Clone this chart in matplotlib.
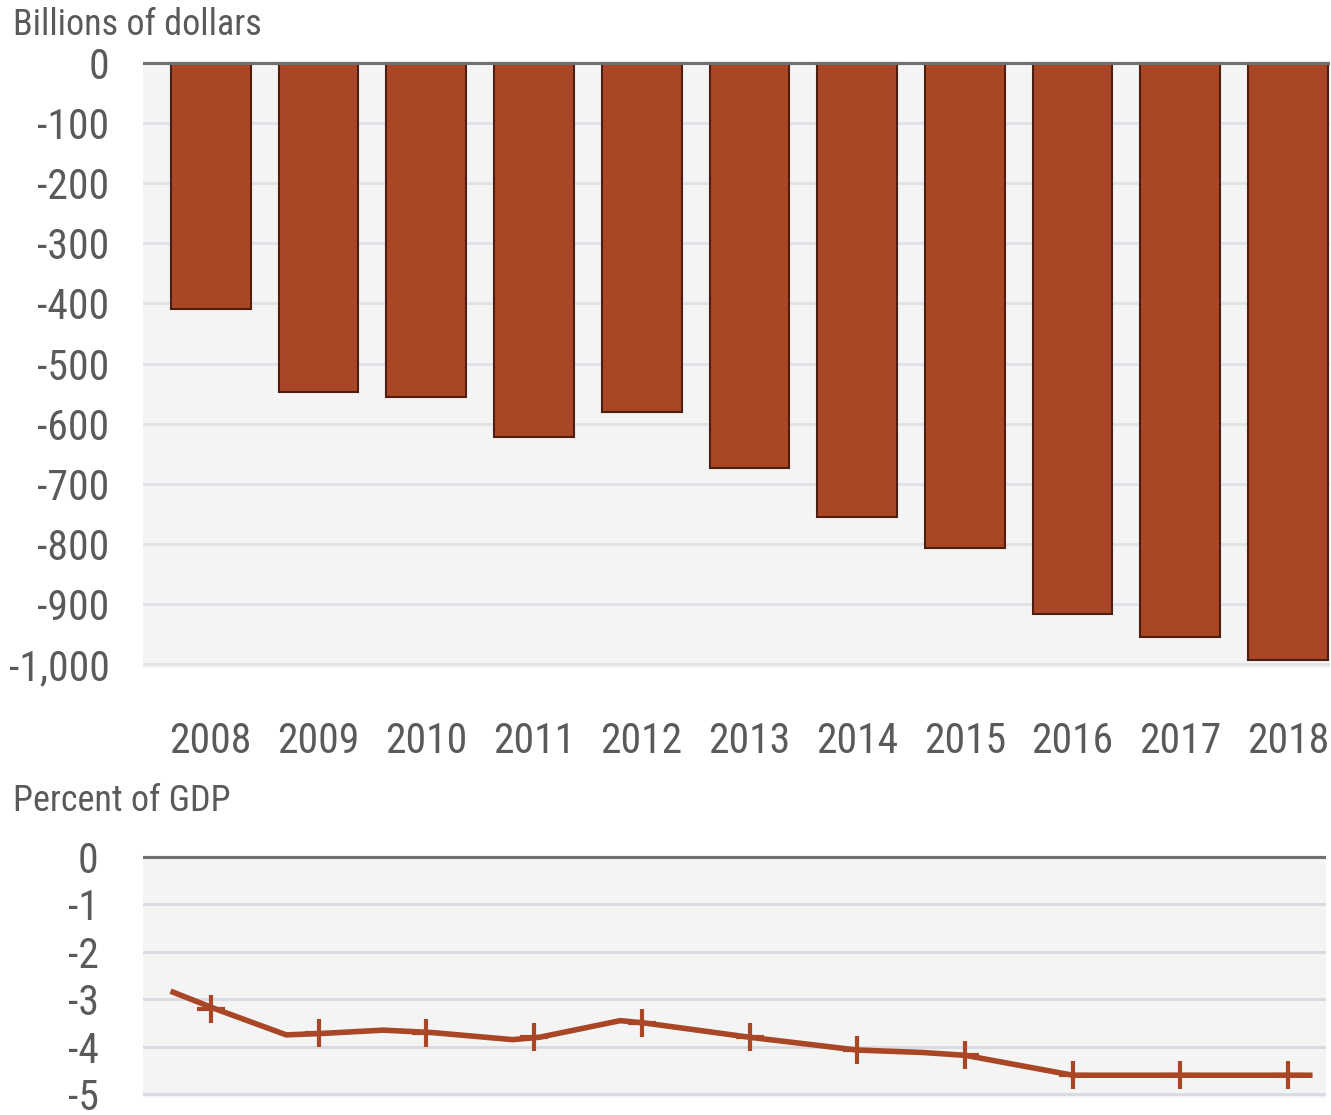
import numpy as np
import matplotlib.pyplot as plt

# data
years = ["2008", "2009", "2010", "2011", "2012", "2013", "2014", "2015", "2016", "2017", "2018"]
deficit_bn = [-409, -548, -556, -622, -581, -674, -755, -806, -917, -955, -992]

# percent of GDP line (x in years since 2008, traced vertices)
gdp_x = [-0.35, 0.04, 0.70, 1.03, 1.60, 2.05, 2.80, 3.05, 3.80, 4.03, 5.0, 6.0, 6.6, 7.0, 8.0, 9.05, 10.0, 10.2]
gdp_y = [-2.85, -3.2, -3.75, -3.72, -3.65, -3.7, -3.85, -3.8, -3.45, -3.5, -3.8, -4.07, -4.12, -4.18, -4.6, -4.6, -4.6, -4.6]
marker_y = [-3.2, -3.72, -3.7, -3.8, -3.5, -3.8, -4.07, -4.18, -4.6, -4.6, -4.6]

bar_ticks = [0, -100, -200, -300, -400, -500, -600, -700, -800, -900, -1000]
bar_ticklabels = ["0", "-100", "-200", "-300", "-400", "-500", "-600", "-700", "-800", "-900", "-1,000"]
pct_ticks = [0, -1, -2, -3, -4, -5]

red = "#A84626"
bg = "#F3F4F3"
grid = "#E0E2E8"
txt = "#5a5a5a"

plt.rcParams['font.family'] = ["Roboto Condensed", "DejaVu Sans"]

fig = plt.figure(figsize=(13.31, 11.15), dpi=100)

# top panel: bars
ax1 = fig.add_axes([0.1074, 0.4009, 0.8918, 0.5444])
ax1.set_facecolor(bg)
x = np.arange(len(years))
for t in bar_ticks[1:]:
    ax1.axhline(t, color=grid, lw=2, zorder=1)
ax1.bar(x, deficit_bn, width=0.74, color=red, edgecolor="#4e1f10", linewidth=1.5, zorder=2)
ax1.axhline(0, color="#707070", lw=2.2, zorder=3)
ax1.set_xlim(-0.63, 10.39)
ax1.set_ylim(-1006, 3)
ax1.set_yticks(bar_ticks)
ax1.set_yticklabels(bar_ticklabels)
ax1.set_xticks(x)
ax1.set_xticklabels(years)
ax1.tick_params(length=0, labelsize=30, colors=txt)
ax1.tick_params(axis='y', pad=24)
ax1.tick_params(axis='x', pad=38)
for s in ax1.spines.values():
    s.set_visible(False)

# bottom panel: percent of GDP
ax2 = fig.add_axes([0.1074, 0.01525, 0.8888, 0.2179])
ax2.set_facecolor(bg)
for t in pct_ticks[1:]:
    ax2.axhline(t, color="#D8DAE2", lw=2, zorder=1)
ax2.axhline(0, color="#707070", lw=2.2, zorder=3)
ax2.plot(gdp_x, gdp_y, color=red, lw=4, zorder=4)
ax2.plot(x, marker_y, linestyle="none", marker="+", markersize=20, mew=3, color=red, zorder=5)
ax2.set_xlim(-0.63, 10.35)
ax2.set_ylim(-5.08, 0.04)
ax2.set_yticks(pct_ticks)
ax2.set_yticklabels([str(t) for t in pct_ticks])
ax2.set_xticks([])
ax2.tick_params(length=0, labelsize=30, colors=txt)
ax2.tick_params(axis='y', pad=32)
for s in ax2.spines.values():
    s.set_visible(False)

fig.text(0.0098, 0.978, "Billions of dollars", fontsize=26, color=txt, va="center", ha="left")
fig.text(0.0098, 0.282, "Percent of GDP", fontsize=26, color=txt, va="center", ha="left")

fig.savefig("out.png", dpi=100)
